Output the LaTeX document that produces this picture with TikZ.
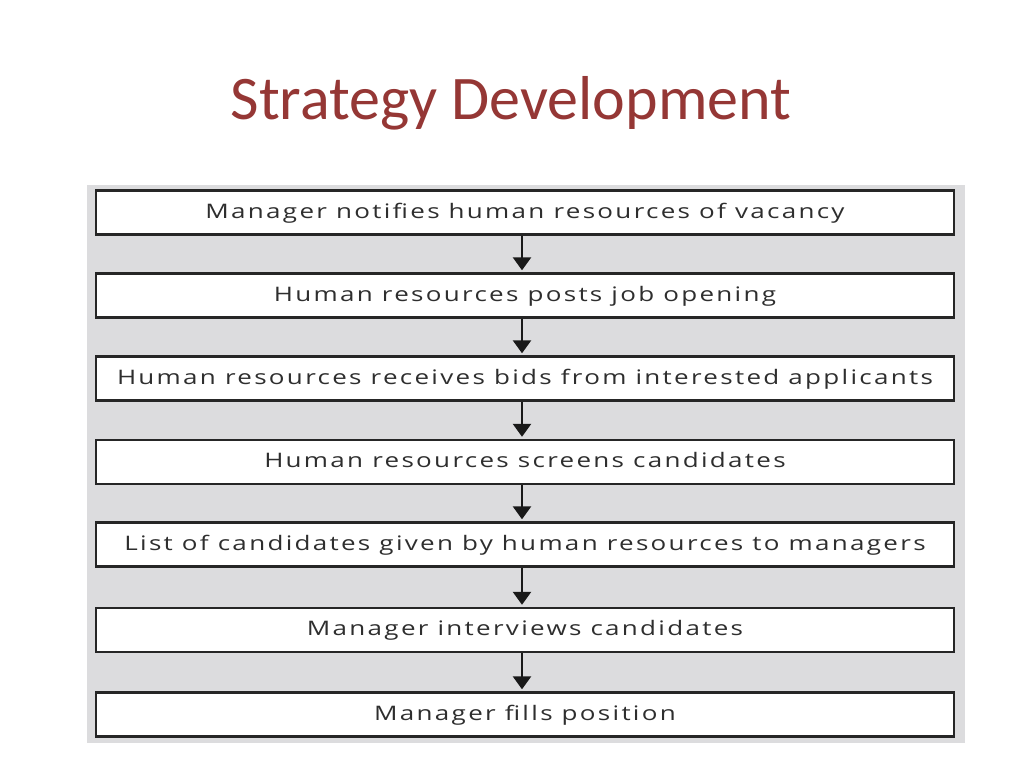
\documentclass[tikz,border=0pt]{standalone}
\usepackage{fontspec}
\setmainfont{Carlito}
\newfontfamily\boxfont[LetterSpace=11.5,FakeStretch=1.3]{Open Sans}
\usetikzlibrary{arrows.meta}
\definecolor{titlered}{HTML}{953735}
\definecolor{panelgray}{HTML}{DCDCDE}
\definecolor{boxtext}{HTML}{2E2E2E}
\tikzset{
  x=1pt, y=-1pt,
  stepbox/.style={draw=black!85, line width=2.4pt, fill=white, minimum width=858pt, minimum height=44pt,
    inner sep=0pt, text height=16pt, text depth=4.4pt, text=boxtext, font=\boxfont\fontsize{20}{24}\selectfont},
  flow/.style={draw=black!90, line width=2.6pt, -{Triangle[width=18pt,length=13pt]}, shorten >=2pt}
}
\begin{document}
\begin{tikzpicture}
\useasboundingbox (0,0) rectangle (1024,768);
\fill[white] (0,0) rectangle (1024,768);
\node[text=titlered, font=\fontsize{62}{68}\selectfont, anchor=base] (title) at (511,119) {Strategy Development};
\fill[panelgray] (87,185) rectangle (965,743);
\node[stepbox] (s1) at (525,212.5) {Manager notifies human resources of vacancy};
\node[stepbox] (s2) at (525,295.5) {Human resources posts job opening};
\node[stepbox] (s3) at (525,378.5) {Human resources receives bids from interested applicants};
\node[stepbox] (s4) at (525,462) {Human resources screens candidates};
\node[stepbox] (s5) at (525,544.5) {List of candidates given by human resources to managers};
\node[stepbox] (s6) at (525,630) {Manager interviews candidates};
\node[stepbox] (s7) at (525,714.5) {Manager fills position};
\foreach \a/\b in {s1/s2,s2/s3,s3/s4,s4/s5,s5/s6,s6/s7}
  \draw[flow] (\a.south -| 522,0) -- (\b.north -| 522,0);
\end{tikzpicture}
\end{document}
